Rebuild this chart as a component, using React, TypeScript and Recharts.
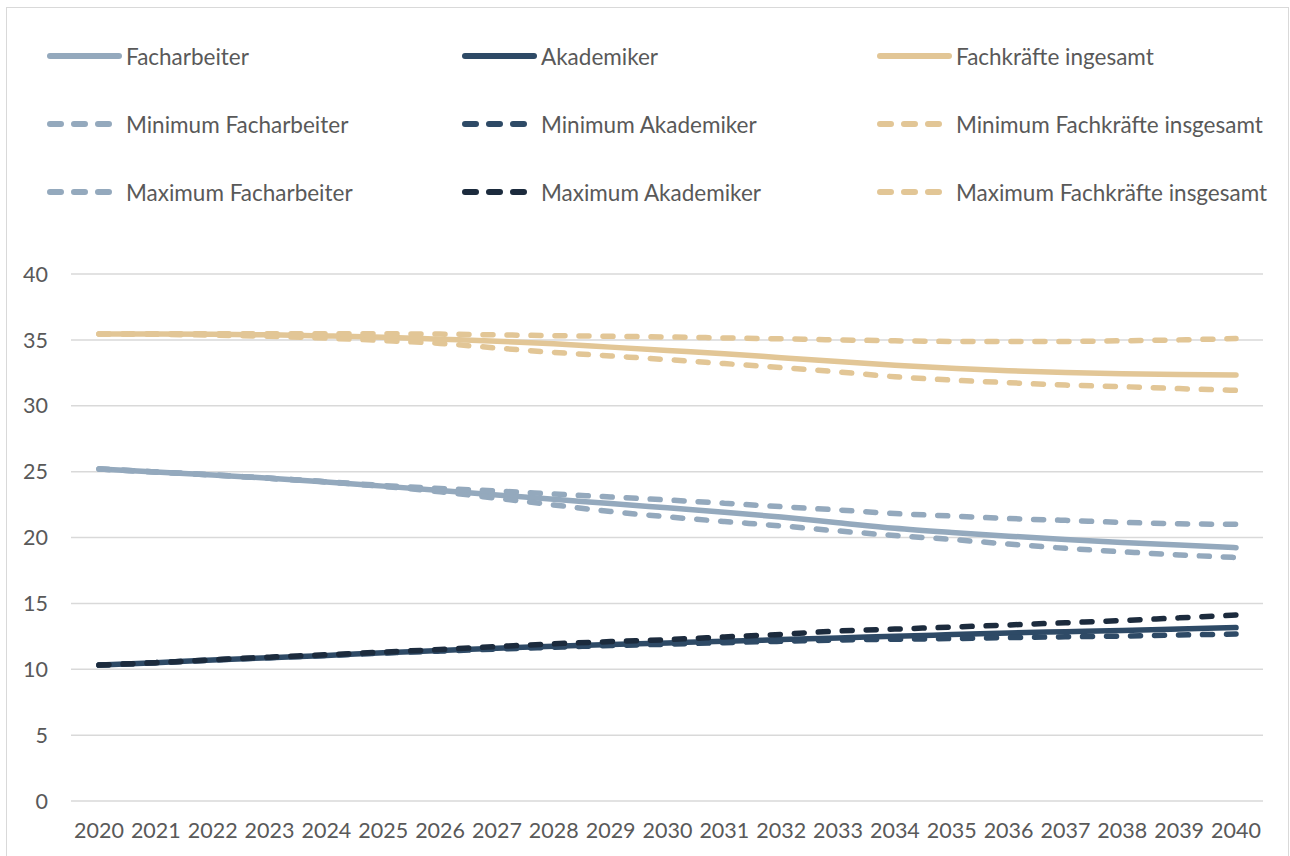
import React from 'react';
import { LineChart, Line, XAxis, YAxis, CartesianGrid } from 'recharts';

const years = [
  '2020', '2021', '2022', '2023', '2024', '2025', '2026', '2027', '2028', '2029', '2030',
  '2031', '2032', '2033', '2034', '2035', '2036', '2037', '2038', '2039', '2040',
];

const facharbeiter = [
  25.2, 24.98, 24.75, 24.5, 24.22, 23.9, 23.57, 23.23, 22.9, 22.58, 22.25,
  21.92, 21.55, 21.12, 20.7, 20.38, 20.1, 19.85, 19.62, 19.43, 19.23,
];
const akademiker = [
  10.32, 10.5, 10.7, 10.88, 11.05, 11.25, 11.42, 11.6, 11.75, 11.88, 12.0,
  12.12, 12.25, 12.38, 12.5, 12.63, 12.76, 12.85, 12.94, 13.05, 13.16,
];
const fachkraefte = [
  35.45, 35.44, 35.42, 35.38, 35.3, 35.2, 35.05, 34.9, 34.7, 34.45, 34.2,
  33.95, 33.65, 33.35, 33.08, 32.85, 32.65, 32.52, 32.43, 32.37, 32.33,
];
const minFacharbeiter = [
  25.2, 24.98, 24.75, 24.5, 24.22, 23.88, 23.47, 22.98, 22.47, 21.97, 21.57,
  21.21, 20.88, 20.5, 20.15, 19.85, 19.5, 19.18, 18.92, 18.68, 18.48,
];
const minAkademiker = [
  10.32, 10.5, 10.7, 10.88, 11.05, 11.23, 11.38, 11.53, 11.67, 11.8, 11.9,
  12.02, 12.12, 12.22, 12.28, 12.33, 12.4, 12.46, 12.52, 12.6, 12.67,
];
const minFachkraefte = [
  35.45, 35.42, 35.36, 35.27, 35.13, 34.95, 34.73, 34.38, 34.05, 33.78, 33.5,
  33.2, 32.9, 32.57, 32.2, 31.95, 31.75, 31.57, 31.45, 31.3, 31.17,
];
const maxFacharbeiter = [
  25.2, 24.98, 24.75, 24.5, 24.23, 23.95, 23.72, 23.53, 23.3, 23.08, 22.85,
  22.6, 22.34, 22.09, 21.82, 21.63, 21.44, 21.3, 21.15, 21.04, 21.0,
];
const maxAkademiker = [
  10.32, 10.5, 10.72, 10.92, 11.1, 11.3, 11.5, 11.72, 11.93, 12.1, 12.25,
  12.45, 12.65, 12.9, 13.05, 13.2, 13.36, 13.53, 13.7, 13.9, 14.12,
];
const maxFachkraefte = [
  35.45, 35.46, 35.47, 35.47, 35.47, 35.46, 35.44, 35.38, 35.32, 35.27, 35.22,
  35.15, 35.08, 35.0, 34.93, 34.88, 34.87, 34.88, 34.93, 35.0, 35.1,
];

const yTicks = [0, 5, 10, 15, 20, 25, 30, 35, 40];

const BLUE_LIGHT = '#94a9bd';
const BLUE_DARK = '#2e4a66';
const BLUE_DARKER = '#1c2b3d';
const SAND = '#e2c696';

// legend order is row by row, same as drawing order
const series = [
  { key: 'facharbeiter', name: 'Facharbeiter', values: facharbeiter, color: BLUE_LIGHT, dashed: false },
  { key: 'akademiker', name: 'Akademiker', values: akademiker, color: BLUE_DARK, dashed: false },
  { key: 'fachkraefte', name: 'Fachkräfte ingesamt', values: fachkraefte, color: SAND, dashed: false },
  { key: 'minFacharbeiter', name: 'Minimum Facharbeiter', values: minFacharbeiter, color: BLUE_LIGHT, dashed: true },
  { key: 'minAkademiker', name: 'Minimum Akademiker', values: minAkademiker, color: BLUE_DARK, dashed: true },
  { key: 'minFachkraefte', name: 'Minimum Fachkräfte insgesamt', values: minFachkraefte, color: SAND, dashed: true },
  { key: 'maxFacharbeiter', name: 'Maximum Facharbeiter', values: maxFacharbeiter, color: BLUE_LIGHT, dashed: true },
  { key: 'maxAkademiker', name: 'Maximum Akademiker', values: maxAkademiker, color: BLUE_DARKER, dashed: true },
  { key: 'maxFachkraefte', name: 'Maximum Fachkräfte insgesamt', values: maxFachkraefte, color: SAND, dashed: true },
];

const data = years.map((year, i) => {
  const row: Record<string, string | number> = { year };
  series.forEach((s) => {
    row[s.key] = s.values[i];
  });
  return row;
});

const FONT = 'Lato, "Open Sans", sans-serif';
const TEXT = '#595959';

function LegendIcon({ color, dashed }: { color: string; dashed: boolean }) {
  return (
    <svg width={76} height={10} style={{ display: 'block' }}>
      <line
        x1={3}
        y1={5}
        x2={dashed ? 66 : 72}
        y2={5}
        stroke={color}
        strokeWidth={6}
        strokeLinecap="round"
        strokeDasharray={dashed ? '11 13' : undefined}
      />
    </svg>
  );
}

function ChartLegend() {
  return (
    <div style={{ position: 'absolute', left: 47, top: 0 }}>
      {series.map((s, i) => (
        <div
          key={s.key}
          style={{
            position: 'absolute',
            left: (i % 3) * 415,
            top: 42 + Math.floor(i / 3) * 68,
            display: 'flex',
            alignItems: 'center',
            whiteSpace: 'nowrap',
            fontFamily: FONT,
            fontSize: 22.5,
            color: TEXT,
            height: 28,
          }}
        >
          <LegendIcon color={s.color} dashed={s.dashed} />
          <span style={{ marginLeft: 3 }}>{s.name}</span>
        </div>
      ))}
    </div>
  );
}

export default function App() {
  return (
    <div style={{ position: 'fixed', left: 0, top: 0, width: 1290, height: 856, background: '#fff', overflow: 'hidden' }}>
      <div
        style={{
          position: 'absolute',
          left: 6,
          top: 7,
          width: 1281,
          height: 870,
          border: '1.5px solid #d9d9d9',
        }}
      />
      <ChartLegend />
      <div style={{ position: 'absolute', left: 0, top: 0 }}>
        <LineChart
          width={1290}
          height={856}
          data={data}
          margin={{ top: 274, right: 27, bottom: 0, left: 0 }}
        >
          <CartesianGrid vertical={false} stroke="#d9d9d9" strokeWidth={1.5} />
          <XAxis
            dataKey="year"
            height={55}
            axisLine={false}
            tickLine={false}
            tickSize={0}
            tickMargin={22}
            padding={{ left: 28, right: 27 }}
            interval={0}
            tick={{ fill: TEXT, fontSize: 21.5, fontFamily: FONT }}
          />
          <YAxis
            width={71}
            domain={[0, 40]}
            ticks={yTicks}
            axisLine={false}
            tickLine={false}
            tickSize={0}
            tickMargin={23}
            tick={{ fill: TEXT, fontSize: 21.5, fontFamily: FONT }}
          />
          {series.map((s) => (
            <Line
              key={s.key}
              type="monotone"
              dataKey={s.key}
              name={s.name}
              stroke={s.color}
              strokeWidth={5.5}
              strokeLinecap="round"
              strokeDasharray={s.dashed ? '10 14' : undefined}
              dot={false}
              activeDot={false}
              isAnimationActive={false}
            />
          ))}
        </LineChart>
      </div>
    </div>
  );
}
